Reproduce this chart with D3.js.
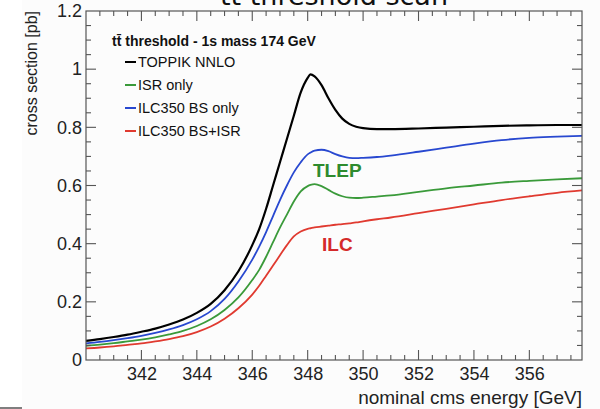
<!DOCTYPE html>
<html><head><meta charset="utf-8">
<script src="https://cdn.jsdelivr.net/npm/d3@7"></script>
<style>
html,body{margin:0;padding:0;background:#fff;}
svg{display:block;}
</style></head>
<body>
<svg id="c" width="600" height="409"></svg>
<script>
// ---- data ----
const energies = [340, 340.5, 341, 341.5, 342, 342.5, 343, 343.5, 344, 344.5, 345, 345.5, 346, 346.25, 346.5, 346.75, 347, 347.25, 347.5, 347.75, 348, 348.1, 348.25, 348.5, 348.75, 349, 349.25, 349.5, 349.75, 350, 350.5, 351, 352, 353, 354, 355, 356, 357, 357.9];
const toppik = [0.066, 0.072, 0.079, 0.087, 0.097, 0.108, 0.122, 0.139, 0.162, 0.193, 0.24, 0.305, 0.395, 0.45, 0.52, 0.60, 0.68, 0.76, 0.84, 0.92, 0.97, 0.982, 0.975, 0.945, 0.90, 0.86, 0.83, 0.812, 0.802, 0.797, 0.794, 0.794, 0.796, 0.799, 0.802, 0.805, 0.807, 0.808, 0.808];
const isrOnly = [0.049, 0.053, 0.058, 0.064, 0.070, 0.078, 0.088, 0.10, 0.117, 0.14, 0.172, 0.215, 0.275, 0.31, 0.355, 0.405, 0.455, 0.50, 0.545, 0.58, 0.598, 0.602, 0.605, 0.598, 0.585, 0.572, 0.563, 0.558, 0.557, 0.558, 0.562, 0.566, 0.578, 0.59, 0.60, 0.61, 0.616, 0.621, 0.625];
const bsOnly = [0.057, 0.062, 0.068, 0.075, 0.083, 0.093, 0.105, 0.12, 0.14, 0.168, 0.21, 0.27, 0.345, 0.39, 0.44, 0.495, 0.55, 0.60, 0.645, 0.68, 0.707, 0.713, 0.72, 0.723, 0.718, 0.708, 0.70, 0.695, 0.694, 0.695, 0.698, 0.703, 0.716, 0.73, 0.744, 0.756, 0.764, 0.768, 0.771];
const bsIsr = [0.040, 0.043, 0.047, 0.052, 0.057, 0.064, 0.072, 0.082, 0.096, 0.115, 0.142, 0.178, 0.225, 0.255, 0.29, 0.325, 0.36, 0.395, 0.425, 0.442, 0.451, 0.453, 0.456, 0.459, 0.462, 0.465, 0.467, 0.47, 0.473, 0.477, 0.484, 0.49, 0.505, 0.52, 0.535, 0.55, 0.563, 0.575, 0.583];
const seriesNames = ["TOPPIK NNLO", "ISR only", "ILC350 BS only", "ILC350 BS+ISR"];
const seriesColors = ["#000000", "#3a9a3a", "#2848d0", "#e03a30"];
const xTickValues = [342, 344, 346, 348, 350, 352, 354, 356];
const yTickValues = [0, 0.2, 0.4, 0.6, 0.8, 1, 1.2];
const yTickLabels = ["0", "0.2", "0.4", "0.6", "0.8", "1", "1.2"];

// ---- layout ----
const svg = d3.select("#c");
const L = 86, R = 582, T = 11, B = 360;
const x = d3.scaleLinear().domain([340, 357.9]).range([L, R]);
const y = d3.scaleLinear().domain([0, 1.2]).range([B, T]);
const font = "'Liberation Sans', Arial, Helvetica, sans-serif";

svg.append("rect").attr("x", 0).attr("y", 0).attr("width", 600).attr("height", 409).attr("fill", "#ffffff");
svg.append("rect").attr("x", 22).attr("y", 0).attr("width", 578).attr("height", 409).attr("fill", "#fcfcfc");
svg.append("line").attr("x1", 0).attr("x2", 22).attr("y1", 408).attr("y2", 408).attr("stroke", "#555").attr("stroke-width", 1.5);

// title (cut off at top, as in the reference)
svg.append("text").attr("x", (L + R) / 2).attr("y", 5).attr("text-anchor", "middle")
  .attr("font-family", "'DejaVu Sans', sans-serif").attr("font-size", 27).attr("fill", "#111")
  .text("tt\u0304 threshold scan");

// curves
const line = d3.line().x((d, i) => x(energies[i])).y(d => y(d)).curve(d3.curveMonotoneX);
const allSeries = [toppik, isrOnly, bsOnly, bsIsr];
const drawOrder = [3, 1, 2, 0];
const g = svg.append("g");
drawOrder.forEach(k => {
  g.append("path").attr("d", line(allSeries[k])).attr("fill", "none")
    .attr("stroke", seriesColors[k]).attr("stroke-width", k === 0 ? 2.2 : 1.8)
    .attr("stroke-linejoin", "round");
});

// frame
const axisColor = "#555";
svg.append("rect").attr("x", L).attr("y", T).attr("width", R - L).attr("height", B - T)
  .attr("fill", "none").attr("stroke", axisColor).attr("stroke-width", 1.2);

// ticks pointing inward on all four sides
const ticks = svg.append("g");
const xMinor = d3.range(340.5, 357.9, 0.5);
xMinor.forEach(v => {
  const major = Math.abs(v % 2) < 1e-6;
  const len = major ? 10 : 5;
  ticks.append("line").attr("x1", x(v)).attr("x2", x(v)).attr("y1", B).attr("y2", B - len).attr("stroke", axisColor).attr("stroke-width", 1.1);
  ticks.append("line").attr("x1", x(v)).attr("x2", x(v)).attr("y1", T).attr("y2", T + len).attr("stroke", axisColor).attr("stroke-width", 1.1);
});
const yMinor = d3.range(0.05, 1.2, 0.05);
yMinor.forEach(v => {
  const major = Math.abs(Math.round(v / 0.2) * 0.2 - v) < 1e-6;
  const len = major ? 10 : 5;
  ticks.append("line").attr("x1", L).attr("x2", L + len).attr("y1", y(v)).attr("y2", y(v)).attr("stroke", axisColor).attr("stroke-width", 1.1);
  ticks.append("line").attr("x1", R).attr("x2", R - len).attr("y1", y(v)).attr("y2", y(v)).attr("stroke", axisColor).attr("stroke-width", 1.1);
});

const xAxisB = d3.axisBottom(x).tickValues(xTickValues).tickSize(0).tickPadding(0).tickFormat(d3.format("d"));
const gx = svg.append("g").attr("transform", `translate(0,${B})`).call(xAxisB);
gx.select(".domain").remove();
gx.selectAll("text").attr("y", 20).attr("dy", 0).attr("font-family", font).attr("font-size", 18).attr("fill", "#222");

const yAxis = d3.axisLeft(y).tickValues(yTickValues).tickSize(0).tickPadding(4).tickFormat((d, i) => yTickLabels[i]);
const gy = svg.append("g").attr("transform", `translate(${L},0)`).call(yAxis);
gy.select(".domain").remove();
gy.selectAll("text").attr("font-family", font).attr("font-size", 18).attr("fill", "#222");

// axis titles
svg.append("text").attr("x", R).attr("y", 404).attr("text-anchor", "end")
  .attr("font-family", font).attr("font-size", 19).attr("fill", "#222").text("nominal cms energy [GeV]");
svg.append("text").attr("transform", `translate(37,${T}) rotate(-90)`).attr("text-anchor", "end")
  .attr("font-family", font).attr("font-size", 16).attr("fill", "#222").text("cross section [pb]");

// legend
const lg = svg.append("g");
lg.append("text").attr("x", 112).attr("y", 46).attr("font-family", font).attr("font-size", 14)
  .attr("font-weight", "bold").attr("fill", "#111").text("tt\u0304 threshold - 1s mass 174 GeV");
seriesNames.forEach((name, i) => {
  const yy = 67 + i * 23;
  lg.append("line").attr("x1", 125).attr("x2", 136).attr("y1", yy - 5).attr("y2", yy - 5)
    .attr("stroke", seriesColors[i]).attr("stroke-width", 2);
  lg.append("text").attr("x", 138).attr("y", yy).attr("font-family", font).attr("font-size", 14.5)
    .attr("fill", "#111").text(name);
});

// annotations
svg.append("text").attr("x", 313).attr("y", 177).attr("font-family", font).attr("font-size", 19)
  .attr("font-weight", "bold").attr("fill", "#2e8b2e").text("TLEP");
svg.append("text").attr("x", 322).attr("y", 251).attr("font-family", font).attr("font-size", 19)
  .attr("font-weight", "bold").attr("fill", "#d42a2a").text("ILC");
</script>
</body></html>
